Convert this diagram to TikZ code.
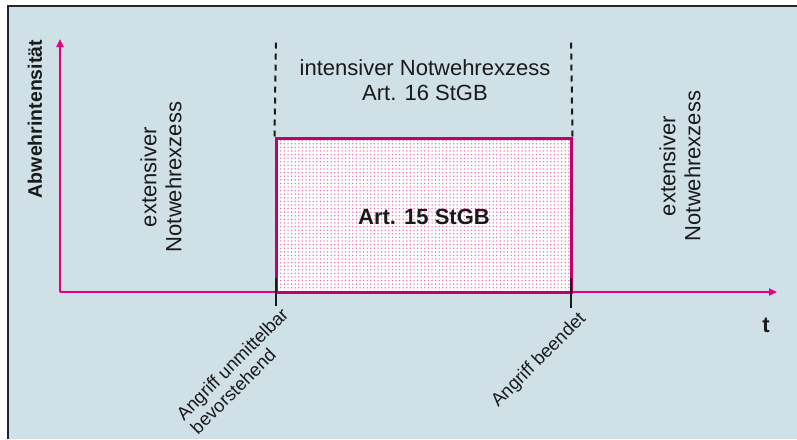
\documentclass[tikz,border=0pt]{standalone}
\usepackage{fontspec}
\setmainfont{Liberation Sans}
\usetikzlibrary{arrows.meta,patterns.meta}
\definecolor{bg}{HTML}{CFE0E6}
\definecolor{axisc}{HTML}{E6007E}
\definecolor{boxc}{HTML}{C2006C}
\definecolor{framec}{HTML}{262626}
\definecolor{txt}{HTML}{1A1A1A}
\tikzset{
  axisline/.style={draw=axisc, line width=2pt, -{Triangle[length=8pt,width=7pt]}},
  rangebox/.style={draw=boxc, line width=3pt, inner sep=0pt,
    preaction={fill=white}, pattern={Dots[distance=3.6pt, radius=0.75pt]}, pattern color=axisc!60},
  dashline/.style={draw=txt, line width=2pt, dash pattern=on 6pt off 5pt},
  tickline/.style={draw=txt, line width=2.2pt},
  bigtxt/.style={text=txt, font=\fontsize{22}{25}\selectfont, align=center, inner sep=0pt},
  smalltxt/.style={text=txt, font=\fontsize{18.4}{20}\selectfont, align=left, inner sep=0pt, rotate=45, anchor=north east},
}
\begin{document}
\begin{tikzpicture}[x=1pt,y=-1pt]
\useasboundingbox (0,0) rectangle (797,439);
\fill[white] (0,0) rectangle (797,439);
\fill[bg] (8,6) rectangle (797,439);
\draw[framec, line width=2.5pt] (8,439) -- (8,6) -- (797,6);

% axes
\coordinate (O) at (60,292);
\coordinate (ytip) at (60,39);
\coordinate (xtip) at (777,292);
\draw[axisline] (O) -- (ytip);
\draw[axisline] (O) -- (xtip);

% box
\node[rangebox, minimum width=295pt, minimum height=154pt] (box) at (423.5,215) {};
\node[bigtxt, font=\fontsize{22}{25}\selectfont\bfseries] (art15) at (424,217) {Art. 15 StGB};

% dashed lines
\coordinate (d1) at (276,38);
\coordinate (d2) at (571,38);
\draw[dashline] (box.north west) -- (d1);
\draw[dashline] (box.north east) -- (d2);

% ticks
\coordinate (t1a) at (276,278);
\coordinate (t1b) at (276,306);
\coordinate (t2a) at (571,278);
\coordinate (t2b) at (571,308);
\draw[tickline] (t1a) -- (t1b);
\draw[tickline] (t2a) -- (t2b);

% texts
\node[bigtxt] (intens) at (425,80) {intensiver Notwehrexzess\\Art. 16 StGB};
\node[bigtxt, rotate=90] (extL) at (161,177) {extensiver\\Notwehrexzess};
\node[bigtxt, rotate=90] (extR) at (680,166) {extensiver\\Notwehrexzess};
\node[text=txt, font=\fontsize{19.5}{22}\selectfont\bfseries, rotate=90, inner sep=0pt] (ylab) at (35,119) {Abwehrintensität};
\node[text=txt, font=\fontsize{22}{25}\selectfont\bfseries, inner sep=0pt] (tlab) at (766,325) {t};

\node[smalltxt] (lab1) at (280,306) {Angriff unmittelbar\\bevorstehend};
\node[smalltxt] (lab2) at (577,310) {Angriff beendet};
\end{tikzpicture}
\end{document}
